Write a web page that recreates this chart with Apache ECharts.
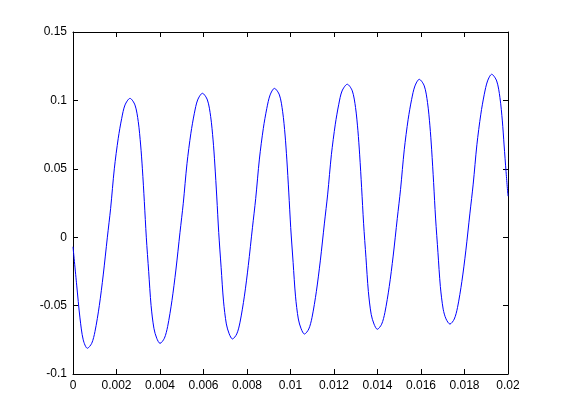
<!DOCTYPE html>
<html>
<head>
<meta charset="utf-8">
<script src="https://cdn.jsdelivr.net/npm/echarts@6/dist/echarts.min.js"></script>
<style>
    html, body { margin: 0; padding: 0; background: #ffffff; }
    #chart { width: 561px; height: 420px; }
</style>
</head>
<body>
<div id="chart"></div>
<script>
    // sample times (s) and signal values
    const times = [
        0, 0.00017, 0.00032, 0.00047,
        0.00066, 0.00086, 0.00101, 0.00121, 0.00139, 0.00158, 0.00173, 0.00190, 0.00208, 0.00224, 0.00239, 0.00262,
        0.00285, 0.00300, 0.00311, 0.00319, 0.00328, 0.00337, 0.00348, 0.00359, 0.00372, 0.00385,
        0.00400, 0.00420, 0.00435, 0.00455, 0.00473, 0.00492, 0.00507, 0.00524, 0.00542, 0.00558, 0.00573, 0.00595,
        0.00618, 0.00633, 0.00644, 0.00652, 0.00661, 0.00670, 0.00681, 0.00692, 0.00705, 0.00718,
        0.00733, 0.00753, 0.00768, 0.00788, 0.00806, 0.00825, 0.00840, 0.00857, 0.00875, 0.00891, 0.00906, 0.00926,
        0.00949, 0.00964, 0.00975, 0.00983, 0.00992, 0.01001, 0.01012, 0.01023, 0.01036, 0.01049,
        0.01064, 0.01084, 0.01099, 0.01119, 0.01137, 0.01156, 0.01171, 0.01188, 0.01206, 0.01222, 0.01237, 0.01261,
        0.01284, 0.01299, 0.01310, 0.01318, 0.01327, 0.01336, 0.01347, 0.01358, 0.01371, 0.01384,
        0.01399, 0.01419, 0.01434, 0.01454, 0.01472, 0.01491, 0.01506, 0.01523, 0.01541, 0.01557, 0.01572, 0.01592,
        0.01615, 0.01630, 0.01641, 0.01649, 0.01658, 0.01667, 0.01678, 0.01689, 0.01702, 0.01715,
        0.01733, 0.01753, 0.01768, 0.01788, 0.01806, 0.01825, 0.01840, 0.01857, 0.01875, 0.01891, 0.01906, 0.01925,
        0.01948, 0.01963, 0.01974, 0.01982, 0.01991, 0.02000
    ];
    const values = [
        -0.0070, -0.0350, -0.0590, -0.0750,
        -0.0812, -0.0776, -0.0690, -0.0500, -0.0276, 0.0000, 0.0211, 0.0500, 0.0723, 0.0869, 0.0966, 0.1015,
        0.0966, 0.0845, 0.0674, 0.0500, 0.0260, 0.0000, -0.0252, -0.0500, -0.0666, -0.0739,
        -0.0776, -0.0739, -0.0654, -0.0463, -0.0240, 0.0036, 0.0248, 0.0537, 0.0760, 0.0906, 0.1003, 0.1052,
        0.1003, 0.0881, 0.0711, 0.0535, 0.0294, 0.0034, -0.0220, -0.0467, -0.0634, -0.0706,
        -0.0744, -0.0707, -0.0621, -0.0431, -0.0207, 0.0069, 0.0282, 0.0571, 0.0795, 0.0941, 0.1039, 0.1088,
        0.1040, 0.0917, 0.0747, 0.0571, 0.0330, 0.0070, -0.0184, -0.0431, -0.0598, -0.0670,
        -0.0708, -0.0671, -0.0586, -0.0396, -0.0173, 0.0103, 0.0315, 0.0603, 0.0826, 0.0972, 0.1069, 0.1118,
        0.1070, 0.0948, 0.0778, 0.0602, 0.0362, 0.0102, -0.0150, -0.0397, -0.0564, -0.0635,
        -0.0673, -0.0636, -0.0551, -0.0361, -0.0138, 0.0138, 0.0350, 0.0639, 0.0862, 0.1008, 0.1105, 0.1154,
        0.1106, 0.0984, 0.0814, 0.0639, 0.0399, 0.0140, -0.0113, -0.0360, -0.0526, -0.0597,
        -0.0635, -0.0598, -0.0513, -0.0323, -0.0100, 0.0176, 0.0388, 0.0676, 0.0899, 0.1045, 0.1142, 0.1191,
        0.1142, 0.1020, 0.0850, 0.0674, 0.0480, 0.0300
    ];
    const xTickLabels = ['0', '0.002', '0.004', '0.006', '0.008', '0.01', '0.012', '0.014', '0.016', '0.018', '0.02'];
    const yTickLabels = ['-0.1', '-0.05', '0', '0.05', '0.1', '0.15'];

    const xStep = 0.002;
    const yStep = 0.05;
    const yMin = -0.1;

    const labelStyle = {
        color: '#000000',
        fontFamily: 'Liberation Sans, Arial, sans-serif',
        fontSize: 12
    };

    const axisCommon = {
        axisLine: { show: true, onZero: false, lineStyle: { color: '#000000', width: 1 } },
        axisTick: { show: true, inside: true, length: 5, lineStyle: { color: '#000000', width: 1 } },
        splitLine: { show: false }
    };

    const xAxisBase = Object.assign({}, axisCommon, {
        type: 'value',
        min: 0,
        max: 0.02,
        interval: xStep
    });
    const yAxisBase = Object.assign({}, axisCommon, {
        type: 'value',
        min: yMin,
        max: 0.15,
        interval: yStep
    });

    const chart = echarts.init(document.getElementById('chart'), null, { renderer: 'canvas' });
    chart.setOption({
        backgroundColor: '#ffffff',
        animation: false,
        grid: { left: 73, right: 53, top: 32, bottom: 46 },
        xAxis: [
            Object.assign({}, xAxisBase, {
                position: 'bottom',
                axisLabel: Object.assign({}, labelStyle, {
                    margin: 6,
                    formatter: (v) => xTickLabels[Math.round(v / xStep)]
                })
            }),
            Object.assign({}, xAxisBase, {
                position: 'top',
                axisLabel: { show: false }
            })
        ],
        yAxis: [
            Object.assign({}, yAxisBase, {
                position: 'left',
                axisLabel: Object.assign({}, labelStyle, {
                    margin: 6,
                    formatter: (v) => yTickLabels[Math.round((v - yMin) / yStep)]
                })
            }),
            Object.assign({}, yAxisBase, {
                position: 'right',
                axisLabel: { show: false }
            })
        ],
        series: [
            {
                type: 'line',
                xAxisIndex: 0,
                yAxisIndex: 0,
                data: times.map((t, i) => [t, values[i]]),
                showSymbol: false,
                smooth: 0.3,
                lineStyle: { color: '#0000ff', width: 1 }
            }
        ]
    });
</script>
</body>
</html>
